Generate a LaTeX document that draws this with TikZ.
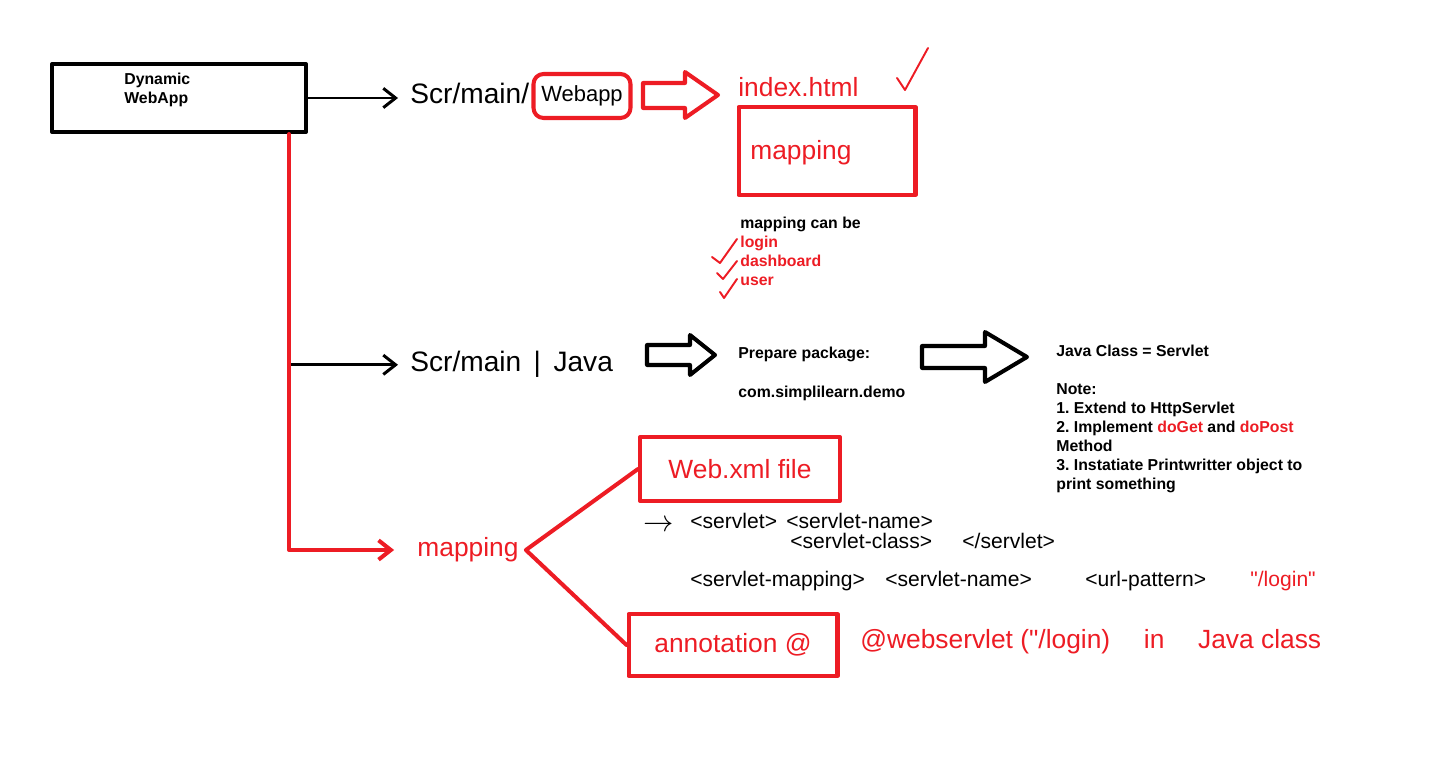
\documentclass[tikz,border=0pt]{standalone}
\usepackage{fontspec}
\setmainfont{Liberation Sans}
\usetikzlibrary{arrows.meta}
\definecolor{paintred}{RGB}{237,28,36}

\tikzset{
  box/.style={draw, line width=2.3pt, inner sep=0pt},
  redbox/.style={draw=paintred, line width=2.3pt, inner sep=0pt},
  hand/.style={font=\fontsize{15}{18}\selectfont, inner sep=0pt},
  tag/.style={font=\fontsize{12}{14}\selectfont, inner sep=0pt, anchor=base west},
  typed/.style={font=\fontsize{9}{10.8}\selectfont\bfseries\frenchspacing, inner sep=0pt, align=left},
  barbed/.style={-{Straight Barb[length=7pt,width=11pt]}},
  blackline/.style={line width=1.7pt},
  redline/.style={draw=paintred, line width=2.3pt},
  check/.style={draw=paintred, line width=1.1pt}
}

\begin{document}
\begin{tikzpicture}[x=0.02cm, y=-0.02cm, line cap=round, line join=round]
    \useasboundingbox (0,0) rectangle (1434,780);

    % project
    \node (app) [box, minimum width=5.08cm, minimum height=1.36cm] at (179,98) {};
    \node (apptext) [typed, anchor=north west] at (124,73) {Dynamic\\WebApp};
    \coordinate (trunk) at ([xshift=-0.38cm]app.south east);

    % webapp folder
    \node (scr) [hand, font=\fontsize{16}{18}\selectfont, anchor=base west] at (410,104) {Scr/main/};
    \node (webapp) [redbox, rounded corners=0.2cm, minimum width=1.94cm, minimum height=0.88cm, hand, font=\fontsize{12.5}{15}\selectfont] at (582,96) {Webapp};
    \draw[blackline, barbed, shorten >=0.24cm] (app.east) -- (app.east -| scr.west);
    \draw[redline] (643,83) -- (685,83) -- (685,72) -- (718,95) -- (685,118) -- (685,108) -- (643,108) -- cycle;
    \node (index) [hand, text=paintred, anchor=base west] at (738,97) {index.html};
    \draw[check] (897,78) -- (905,90) -- (928,48);
    \node (mapbox) [redbox, minimum width=3.54cm, minimum height=1.76cm] at (827,151) {};
    \node (maptext) [hand, text=paintred, anchor=base west] at (750,160) {mapping};
    \node (canbe) [typed, anchor=north west] at (740,217) {mapping can be\\{\color{paintred}login}\\{\color{paintred}dashboard}\\{\color{paintred}user}};
    \draw[check] (712,257) -- (720,263) -- (737,239);
    \draw[check] (717,273) -- (723,279) -- (737,261);
    \draw[check] (720,292) -- (724,298) -- (737,279);

    % java folder
    \node (java) [hand, font=\fontsize{16}{18}\selectfont, anchor=base west] at (410,372) {Scr/main \,|\, Java};
    \draw[blackline, barbed, shorten >=0.24cm] (trunk |- java.west) -- (java.west);
    \draw[blackline, line width=2.3pt] (647,345) -- (690,345) -- (690,335) -- (715,355) -- (690,375) -- (690,365) -- (647,365) -- cycle;
    \node (pkg) [typed, anchor=north west] at (738,347) {Prepare package:\\[11pt]com.simplilearn.demo};
    \draw[blackline, line width=2.3pt] (922,346) -- (985,346) -- (985,332) -- (1027,357) -- (985,382) -- (985,368) -- (922,368) -- cycle;
    \node (note) [typed, anchor=north west] at (1056,345) {Java Class = Servlet\\[10.8pt]Note:\\1. Extend to HttpServlet\\2. Implement {\color{paintred}doGet} and {\color{paintred}doPost}\\Method\\3. Instatiate Printwritter object to\\print something};

    % mapping
    \node (map2) [hand, text=paintred] at (468,550) {mapping};
    \draw[redline, barbed, shorten >=0.46cm] (trunk) |- (map2.west);
    \coordinate (fork) at ([xshift=0.14cm]map2.east);
    \node (webxml) [redbox, minimum width=4cm, minimum height=1.28cm, hand, text=paintred] at (740,469) {Web.xml file};
    \node (annot) [redbox, minimum width=4.18cm, minimum height=1.24cm, hand, text=paintred] at (733,645) {annotation @};
    \draw[redline] (webxml.west) -- (fork) -- (annot.west);

    \node (lead) [tag, font=\fontsize{16}{18}\selectfont, anchor=base west] at (643,531) {$\rightarrow$};
    \node (t1) [tag] at (690,528) {<servlet>};
    \node (t2) [tag] at (786,528) {<servlet-name>};
    \node (t3) [tag] at (790,548) {<servlet-class>};
    \node (t4) [tag] at (962,548) {</servlet>};
    \node (t5) [tag] at (690,586) {<servlet-mapping>};
    \node (t6) [tag] at (885,586) {<servlet-name>};
    \node (t7) [tag] at (1085,586) {<url-pattern>};
    \node (t8) [tag, text=paintred] at (1250,586) {\textquotedbl/login\textquotedbl};
    \node (ws) [hand, text=paintred, anchor=base west] at (860,648) {@webservlet (\textquotedbl/login) \quad in \quad Java class};
\end{tikzpicture}
\end{document}
